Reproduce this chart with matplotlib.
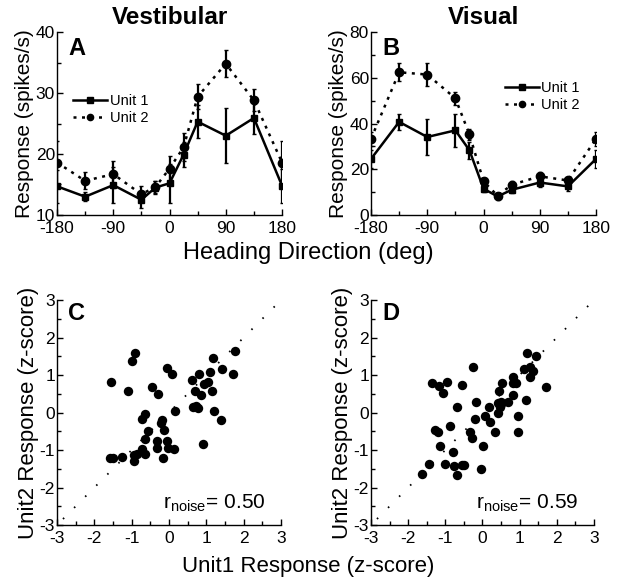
import numpy as np
import matplotlib
matplotlib.use("Agg")
import matplotlib.pyplot as plt
from matplotlib.ticker import MultipleLocator

plt.rcParams['font.family'] = ['Liberation Sans', 'DejaVu Sans']
plt.rcParams['mathtext.fontset'] = 'custom'
plt.rcParams['mathtext.rm'] = 'Liberation Sans'
plt.rcParams['axes.unicode_minus'] = False

# heading directions (deg)
headings = [-180, -135, -90, -45, -22.5, 0, 22.5, 45, 90, 135, 180]

# panel A: vestibular tuning
vest_unit1 = [14.7, 13.0, 14.9, 12.5, 14.5, 15.2, 19.9, 25.3, 23.0, 25.9, 14.8]
vest_unit1_err = [2.7, 0.7, 3.0, 1.4, 1.0, 3.2, 2.1, 2.7, 4.5, 2.7, 2.8]
vest_unit2 = [18.6, 15.6, 16.7, 13.4, 14.6, 17.6, 21.1, 29.4, 34.8, 28.8, 18.6]
vest_unit2_err = [3.6, 1.4, 2.2, 1.3, 1.0, 2.1, 2.3, 2.1, 2.2, 1.8, 3.6]

# panel B: visual tuning
vis_unit1 = [24.5, 40.7, 34.1, 37.0, 28.3, 11.5, 8.1, 11.0, 14.2, 12.5, 24.5]
vis_unit1_err = [3.8, 3.4, 7.9, 7.3, 3.8, 1.5, 1.5, 1.5, 2.0, 2.0, 3.8]
vis_unit2 = [33.3, 62.4, 61.4, 51.0, 35.2, 14.7, 8.4, 13.2, 16.9, 15.1, 33.3]
vis_unit2_err = [3.0, 3.9, 5.0, 2.8, 2.5, 1.5, 1.0, 1.5, 2.0, 1.5, 3.0]

# panel C: vestibular noise correlation (z-scores)
vest_z1 = [-0.91, -1.00, -1.56, -1.10, -0.06, 0.09, -0.46, -0.30, 0.16, -0.64,
           -0.73, -0.20, -0.22, -0.14, -0.55, -0.64, -0.32, -0.06, -0.32, -0.03,
           0.12, -0.73, -0.86, -0.95, -0.64, -0.95, -0.15, -1.25, -1.58, -1.51,
           1.76, 1.19, 1.41, 1.09, 1.70, 0.80, 0.62, 1.05, 0.94, 0.70,
           1.16, 0.85, 0.65, 0.78, 1.21, 1.39, 0.92, 0.72]
vest_z2 = [1.60, 1.38, 0.81, 0.57, 1.18, 1.03, 0.67, 0.49, 0.04, -0.05,
           -0.17, -0.21, -0.28, -0.47, -0.50, -0.70, -0.77, -0.77, -0.95, -0.95,
           -0.96, -0.96, -1.10, -1.14, -1.10, -1.29, -1.20, -1.19, -1.22, -1.22,
           1.65, 1.46, 1.16, 1.08, 1.04, 1.02, 0.86, 0.82, 0.76, 0.58,
           0.57, 0.46, 0.15, 0.11, 0.04, -0.19, -0.85, 0.17]

# panel D: visual noise correlation (z-scores)
vis_z1 = [-0.25, -1.36, -1.18, -0.96, -1.07, -0.54, -0.18, -0.68, -0.20, 0.07,
          -1.29, -1.20, -0.87, -0.34, -0.27, -1.14, -0.80, 0.02, -1.00, -1.45,
          -0.76, -0.56, -0.49, -0.05, -1.63, -0.68,
          1.20, 1.43, 1.12, 1.27, 1.36, 0.81, 1.27, 0.83, 0.90, 0.53,
          1.70, 0.45, 0.83, 1.18, 0.69, 0.51, 0.42, 0.50, 0.17, 0.47,
          0.41, 0.20, 0.96, 0.96, 0.34]
vis_z2 = [1.21, 0.78, 0.71, 0.81, 0.53, 0.73, 0.27, 0.15, -0.18, -0.09,
          -0.47, -0.51, -0.36, -0.51, -0.69, -0.89, -1.04, -0.89, -1.36, -1.38,
          -1.43, -1.40, -1.40, -1.51, -1.64, -1.67,
          1.58, 1.52, 1.17, 1.22, 1.11, 0.94, 0.94, 0.80, 0.78, 0.78,
          0.69, 0.57, 0.48, 0.33, 0.27, 0.29, 0.26, 0.22, 0.14, 0.16,
          -0.01, -0.24, -0.09, -0.51, -0.53]

r_noise = {"C": "0.50", "D": "0.59"}


def style_axes(ax):
    ax.spines['top'].set_visible(False)
    ax.spines['right'].set_visible(False)
    ax.spines['left'].set_linewidth(1.0)
    ax.spines['bottom'].set_linewidth(1.0)
    ax.tick_params(which='both', direction='in', labelsize=12.5, width=1.0)
    ax.tick_params(which='major', length=4)
    ax.tick_params(which='minor', length=3)
    ax.tick_params(axis='x', pad=4.5)
    ax.tick_params(axis='y', pad=1.5)


def tuning_panel(ax, u1, e1, u2, e2, ylim, ystep, letter, title, legend_pos):
    # error bars first, then the tuning curves
    ax.errorbar(headings, u1, yerr=e1, fmt='none', ecolor='black',
                capsize=1.5, elinewidth=1.6)
    ax.errorbar(headings, u2, yerr=e2, fmt='none', ecolor='black',
                capsize=1.5, elinewidth=1.6)
    ax.plot(headings, u1, color='black', lw=1.8, marker='s', ms=5, label='Unit 1')
    ax.plot(headings, u2, color='black', lw=1.8, ls=(0, (1.2, 2.2)),
            marker='o', ms=6, label='Unit 2')
    ax.set_xlim(-180, 180)
    ax.set_ylim(*ylim)
    ax.xaxis.set_major_locator(MultipleLocator(90))
    ax.xaxis.set_minor_locator(MultipleLocator(45))
    ax.yaxis.set_major_locator(MultipleLocator(ystep))
    ax.yaxis.set_minor_locator(MultipleLocator(ystep / 2))
    ax.set_ylabel('Response (spikes/s)', fontsize=15, labelpad=1)
    style_axes(ax)
    ax.text(0.05, 0.97, letter, transform=ax.transAxes, fontsize=17,
            fontweight='bold', va='top', ha='left')
    ax.set_title(title, fontsize=17.5, fontweight='bold', pad=6)
    leg = ax.legend(loc='upper left', bbox_to_anchor=legend_pos, frameon=False,
                    fontsize=10.5, handlelength=2.3, handletextpad=0.2,
                    labelspacing=0.2, borderpad=0)
    for h in leg.legend_handles:
        h.set_markersize(4.5)


def scatter_panel(ax, z1, z2, letter, r):
    ax.plot([-3, 3], [-3, 3], color='black', lw=1.3, ls=(4, (0.9, 7.8)))
    ax.scatter(z1, z2, s=46, color='black', zorder=3, linewidths=0)
    ax.set_xlim(-3, 3)
    ax.set_ylim(-3, 3)
    ax.xaxis.set_major_locator(MultipleLocator(1))
    ax.xaxis.set_minor_locator(MultipleLocator(0.5))
    ax.yaxis.set_major_locator(MultipleLocator(1))
    ax.yaxis.set_minor_locator(MultipleLocator(0.5))
    ax.set_ylabel('Unit2 Response (z-score)', fontsize=16, labelpad=0)
    style_axes(ax)
    ax.text(0.05, 0.99, letter, transform=ax.transAxes, fontsize=17,
            fontweight='bold', va='top', ha='left')
    ax.text(0.93, 0.05, r'r$_{\mathrm{noise}}$= ' + r, transform=ax.transAxes,
            fontsize=15, ha='right', va='bottom')


fig = plt.figure(figsize=(6.17, 5.82), dpi=100)
axA = fig.add_axes([0.0924, 0.6306, 0.3647, 0.3144])
axB = fig.add_axes([0.6013, 0.6306, 0.3647, 0.3144])
axC = fig.add_axes([0.0924, 0.0979, 0.3631, 0.3866])
axD = fig.add_axes([0.6013, 0.0979, 0.3614, 0.3866])

tuning_panel(axA, vest_unit1, vest_unit1_err, vest_unit2, vest_unit2_err,
             (10, 40), 10, 'A', 'Vestibular', (0.04, 0.70))
tuning_panel(axB, vis_unit1, vis_unit1_err, vis_unit2, vis_unit2_err,
             (0, 80), 20, 'B', 'Visual', (0.563, 0.773))

scatter_panel(axC, vest_z1, vest_z2, 'C', r_noise['C'])
scatter_panel(axD, vis_z1, vis_z2, 'D', r_noise['D'])

fig.text(0.5, 0.565, 'Heading Direction (deg)', fontsize=17, ha='center', va='center')
fig.text(0.5, 0.026, 'Unit1 Response (z-score)', fontsize=16, ha='center', va='center')

fig.savefig('out.png', dpi=100)
